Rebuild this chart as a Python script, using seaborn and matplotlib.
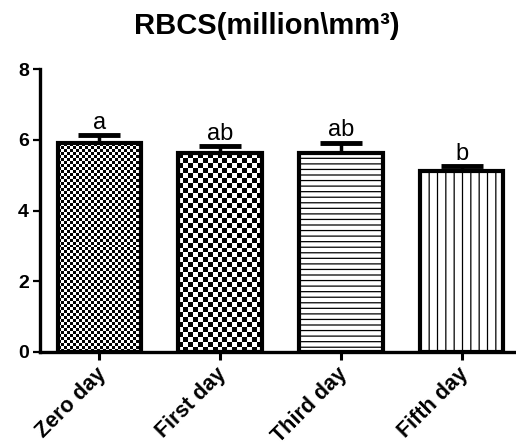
import numpy as np
import pandas as pd
import matplotlib
matplotlib.use("Agg")
import matplotlib.pyplot as plt
import matplotlib.transforms as mtransforms
import seaborn as sns

categories = ["Zero day", "First day", "Third day", "Fifth day"]
means = [5.91, 5.63, 5.63, 5.11]
errors = [0.22, 0.19, 0.28, 0.14]
letters = ["a", "ab", "ab", "b"]
yticks = [0, 2, 4, 6, 8]
title = "RBCS(million\\mm³)"

sns.set_theme(style="ticks")
plt.rcParams["font.family"] = ["Liberation Sans", "DejaVu Sans"]
plt.rcParams["hatch.linewidth"] = 0.9
plt.rcParams["hatch.color"] = "black"

df = pd.DataFrame({"day": categories, "value": means})

fig = plt.figure(figsize=(5.16, 4.47), dpi=100)
ax = fig.add_axes([40 / 516, 95 / 447, 476 / 516, 282.7 / 447])

sns.barplot(data=df, x="day", y="value", color="white", edgecolor="black",
            linewidth=3, width=0.69, errorbar=None, ax=ax, saturation=1)

ax.errorbar(x=np.arange(len(categories)), y=means,
            yerr=[np.zeros(len(errors)), errors], fmt="none", ecolor="black",
            elinewidth=2.5, capsize=15, capthick=3.5, zorder=0.5)

ax.set_xlim(-0.49, 3.45)
ax.set_ylim(0, 8)
ax.set_yticks(yticks)
ax.set_xlabel("")
ax.set_ylabel("")

for s in ["top", "right"]:
    ax.spines[s].set_visible(False)
for s in ["left", "bottom"]:
    ax.spines[s].set_linewidth(2.4)
    ax.spines[s].set_color("black")

ax.tick_params(axis="y", direction="out", length=5, width=1.6, color="black",
               labelcolor="black", pad=3)
ax.tick_params(axis="x", direction="out", length=5.5, width=2.2, color="black",
               labelcolor="black", pad=2)
for lab in ax.get_yticklabels():
    lab.set_fontsize(14)
    lab.set_fontweight("bold")
ax.set_xticks(range(len(categories)))
ax.set_xticklabels(categories, rotation=45, ha="right", rotation_mode="anchor",
                   fontsize=15.5, fontweight="bold")
offset = mtransforms.ScaledTranslation(-4 / 100, -1 / 100, fig.dpi_scale_trans)
for lab in ax.get_xticklabels():
    lab.set_transform(lab.get_transform() + offset)

patches = ax.patches[:len(categories)]
fig.canvas.draw()
cells = [3.0, 5.0]
for i, cell in enumerate(cells):
    p = patches[i]
    bb = p.get_window_extent()
    nx = max(1, int(round(bb.width / cell)))
    ny = max(1, int(round(bb.height / cell)))
    board = (np.indices((ny, nx)).sum(axis=0) % 2).astype(float)
    x0, y0 = p.get_x(), p.get_y()
    im = ax.imshow(board, cmap="gray", vmin=0, vmax=1, interpolation="nearest",
                   extent=[x0, x0 + p.get_width(), y0, y0 + p.get_height()],
                   aspect="auto", zorder=p.get_zorder() - 0.01)
    im.set_clip_path(p)
    p.set_facecolor("none")
ax.set_xlim(-0.49, 3.45)
ax.set_ylim(0, 8)
patches[2].set_hatch("---")
patches[3].set_hatch("||")

for i, (m, e, t) in enumerate(zip(means, errors, letters)):
    ax.text(i, m + e + 0.05, t, ha="center", va="bottom", fontsize=17,
            color="black", clip_on=False)

fig.text(267 / 516, 1 - 26 / 447, title, ha="center", va="center",
         fontsize=21, fontweight="bold", color="black")

fig.savefig("out.png", dpi=100)
